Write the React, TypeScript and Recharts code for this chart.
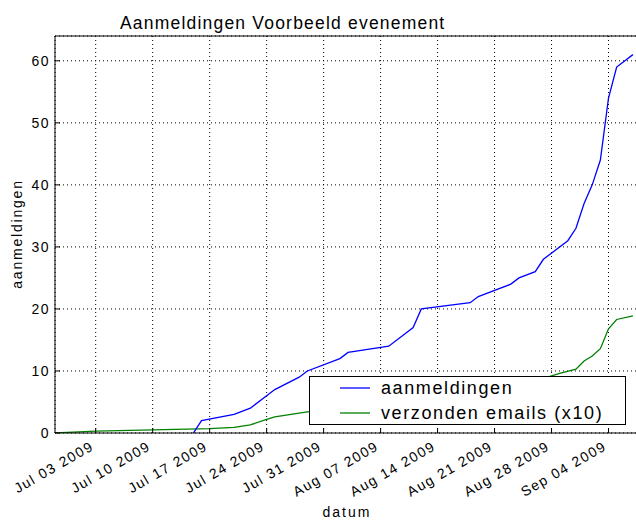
import React from 'react';
import { LineChart, Line, XAxis, YAxis, CartesianGrid } from 'recharts';

// registrations (aanmeldingen) per date
const signupDates = [
  '2009-07-15', '2009-07-16', '2009-07-20', '2009-07-22', '2009-07-24', '2009-07-25',
  '2009-07-28', '2009-07-29', '2009-08-02', '2009-08-03', '2009-08-08', '2009-08-11',
  '2009-08-12', '2009-08-18', '2009-08-19', '2009-08-23', '2009-08-24', '2009-08-26',
  '2009-08-27', '2009-08-30', '2009-08-31', '2009-09-01', '2009-09-02', '2009-09-03',
  '2009-09-04', '2009-09-05', '2009-09-07',
];
const signupCounts = [
  0, 2, 3, 4, 6, 7, 9, 10, 12, 13, 14, 17, 20, 21, 22, 24, 25, 26, 28, 31, 33, 37, 40, 44, 54, 59, 61,
];

// sent emails, divided by 10
const emailDates = [
  '2009-06-28', '2009-07-03', '2009-07-10', '2009-07-17', '2009-07-20', '2009-07-22',
  '2009-07-24', '2009-07-25', '2009-07-29', '2009-08-05', '2009-08-12', '2009-08-19',
  '2009-08-24', '2009-08-27', '2009-08-28', '2009-08-29', '2009-08-31', '2009-09-01',
  '2009-09-02', '2009-09-03', '2009-09-04', '2009-09-05', '2009-09-07',
];
const emailCounts = [
  0, 0.3, 0.5, 0.7, 0.9, 1.3, 2.2, 2.6, 3.4, 4.5, 5.6, 6.8, 7.9, 8.8, 9.2, 9.6, 10.3, 11.6,
  12.4, 13.6, 16.8, 18.3, 18.9,
];

const weekTicks = [
  '2009-07-03', '2009-07-10', '2009-07-17', '2009-07-24', '2009-07-31',
  '2009-08-07', '2009-08-14', '2009-08-21', '2009-08-28', '2009-09-04',
];
const countTicks = [0, 10, 20, 30, 40, 50, 60];

const FONT = '"Liberation Sans", Arial, sans-serif';
const MONTHS = ['Jan', 'Feb', 'Mar', 'Apr', 'May', 'Jun', 'Jul', 'Aug', 'Sep', 'Oct', 'Nov', 'Dec'];
const START = Date.UTC(2009, 6, 3);
const DAY = 86400000;

const toDay = (s: string) => {
  const [y, m, d] = s.split('-').map(Number);
  return (Date.UTC(y, m - 1, d) - START) / DAY;
};
const fmtDay = (v: number) => {
  const d = new Date(START + v * DAY);
  return `${MONTHS[d.getUTCMonth()]} ${String(d.getUTCDate()).padStart(2, '0')} ${d.getUTCFullYear()}`;
};

const signups = signupDates.map((s, i) => ({ t: toDay(s), v: signupCounts[i] }));
const emails = emailDates.map((s, i) => ({ t: toDay(s), v: emailCounts[i] }));
const majorTicks = weekTicks.map(toDay);
const minorTicks = Array.from({ length: 72 }, (_, i) => i - 5);
const xDomain = [-5, 66.5];

const DateTick = (props: any) => {
  const { x, y, payload } = props;
  const ax = x - 1;
  return (
    <text
      x={ax}
      y={y}
      textAnchor="end"
      transform={`rotate(-30 ${ax} ${y})`}
      fontFamily={FONT}
      fontSize={14}
      letterSpacing={1.5}
      fill="#000"
    >
      {fmtDay(payload.value)}
    </text>
  );
};

export default function App() {
  return (
    <div style={{ position: 'absolute', left: 0, top: 0, width: 636, height: 520, overflow: 'hidden', background: '#fff' }}>
      <LineChart width={640} height={520} data={signups} margin={{ top: 35, right: 3, left: 0, bottom: 0 }}>
        <CartesianGrid stroke="#000" strokeDasharray="1 3" />
        <XAxis
          xAxisId="minor"
          type="number"
          dataKey="t"
          domain={xDomain}
          allowDataOverflow
          ticks={minorTicks}
          tick={false}
          tickSize={-2.5}
          axisLine={false}
          tickLine={{ stroke: '#000' }}
          height={0}
        />
        <XAxis
          type="number"
          dataKey="t"
          domain={xDomain}
          allowDataOverflow
          ticks={majorTicks}
          tick={<DateTick />}
          tickSize={-5}
          tickMargin={21}
          axisLine={{ stroke: '#000' }}
          tickLine={{ stroke: '#000' }}
          height={87}
        />
        <XAxis
          xAxisId="top"
          orientation="top"
          type="number"
          dataKey="t"
          domain={xDomain}
          allowDataOverflow
          ticks={majorTicks}
          tick={false}
          tickSize={-5}
          axisLine={{ stroke: '#000' }}
          tickLine={{ stroke: '#000' }}
          height={1}
        />
        <YAxis
          type="number"
          domain={[0, 64]}
          allowDataOverflow
          ticks={countTicks}
          tickSize={-5}
          tickMargin={10}
          width={55}
          axisLine={{ stroke: '#000' }}
          tickLine={{ stroke: '#000' }}
          tick={{ fill: '#000', fontSize: 14, fontFamily: FONT, letterSpacing: 1.5 }}
        />
        <Line
          data={emails}
          dataKey="v"
          type="linear"
          stroke="#008000"
          strokeWidth={1.3}
          dot={false}
          isAnimationActive={false}
        />
        <Line
          data={signups}
          dataKey="v"
          type="linear"
          stroke="#0000ff"
          strokeWidth={1.3}
          dot={false}
          isAnimationActive={false}
        />
      </LineChart>
      <svg width={636} height={520} style={{ position: 'absolute', left: 0, top: 0, pointerEvents: 'none' }}>
        <text x={120} y={29} fontFamily={FONT} fontSize={17.5} letterSpacing={1.2} fill="#000">
          Aanmeldingen Voorbeeld evenement
        </text>
        <text x={347} y={517} textAnchor="middle" fontFamily={FONT} fontSize={14} letterSpacing={2} fill="#000">
          datum
        </text>
        <text
          x={22}
          y={234}
          textAnchor="middle"
          transform="rotate(-90 22 234)"
          fontFamily={FONT}
          fontSize={14}
          letterSpacing={1.8}
          fill="#000"
        >
          aanmeldingen
        </text>
        <rect x={309.5} y={376.5} width={316} height={48} fill="#fff" stroke="#000" strokeWidth={1} />
        <line x1={340} x2={370} y1={388} y2={388} stroke="#0000ff" strokeWidth={1.3} />
        <text x={381} y={394} fontFamily={FONT} fontSize={18} letterSpacing={1.6} fill="#000">
          aanmeldingen
        </text>
        <line x1={340} x2={370} y1={413} y2={413} stroke="#008000" strokeWidth={1.3} />
        <text x={381} y={419} fontFamily={FONT} fontSize={18} letterSpacing={1.6} fill="#000">
          verzonden emails (x10)
        </text>
      </svg>
    </div>
  );
}
